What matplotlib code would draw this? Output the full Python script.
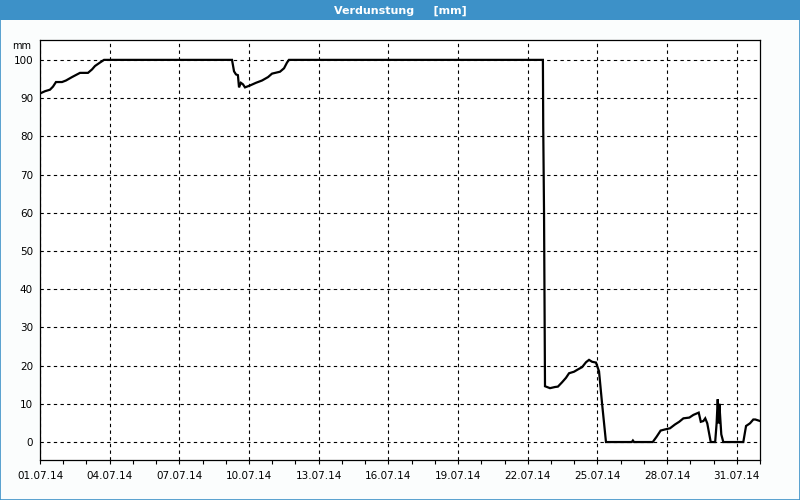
import numpy as np
import pandas as pd
import matplotlib
matplotlib.use("Agg")
import matplotlib.pyplot as plt
import matplotlib.dates as mdates
from matplotlib.patches import Rectangle

# Verdunstung [mm], Juli 2014
times = [
    "2014-07-01 00:00", "2014-07-01 05:10", "2014-07-01 10:20", "2014-07-01 13:25",
    "2014-07-01 16:30", "2014-07-01 22:45", "2014-07-02 02:50", "2014-07-02 09:05",
    "2014-07-02 17:20", "2014-07-03 01:35", "2014-07-03 05:45", "2014-07-03 08:50",
    "2014-07-03 14:00", "2014-07-03 18:10",
    "2014-07-09 06:25", "2014-07-09 08:30", "2014-07-09 10:30", "2014-07-09 12:30",
    "2014-07-09 13:40", "2014-07-09 15:35", "2014-07-09 17:45", "2014-07-09 19:50",
    "2014-07-10 01:00", "2014-07-10 07:10", "2014-07-10 13:25", "2014-07-10 19:40",
    "2014-07-10 23:45", "2014-07-11 08:00", "2014-07-11 12:10", "2014-07-11 15:15",
    "2014-07-11 17:15",
    "2014-07-22 15:40", "2014-07-22 16:00", "2014-07-22 16:50", "2014-07-22 17:50",
    "2014-07-22 23:00", "2014-07-23 04:10", "2014-07-23 07:10", "2014-07-23 11:20",
    "2014-07-23 15:30", "2014-07-23 18:40", "2014-07-23 23:50", "2014-07-24 03:50",
    "2014-07-24 08:10", "2014-07-24 12:15", "2014-07-24 15:20", "2014-07-24 18:30",
    "2014-07-24 22:30", "2014-07-25 01:40", "2014-07-25 04:50", "2014-07-25 08:50",
    "2014-07-26 11:30", "2014-07-26 12:40", "2014-07-26 13:50",
    "2014-07-27 09:10", "2014-07-27 13:10", "2014-07-27 17:20", "2014-07-27 21:50",
    "2014-07-28 03:00", "2014-07-28 08:10", "2014-07-28 12:30", "2014-07-28 16:50",
    "2014-07-28 23:00", "2014-07-29 03:10", "2014-07-29 08:40", "2014-07-29 10:50",
    "2014-07-29 13:30", "2014-07-29 15:25", "2014-07-29 17:30", "2014-07-29 21:05",
    "2014-07-30 01:40", "2014-07-30 03:10", "2014-07-30 04:20", "2014-07-30 05:20",
    "2014-07-30 06:00", "2014-07-30 08:00", "2014-07-30 10:05",
    "2014-07-31 06:45", "2014-07-31 09:35", "2014-07-31 13:40", "2014-07-31 17:05",
    "2014-07-31 19:10", "2014-08-01 00:00",
]
values = [
    91.2, 91.8, 92.2, 93.0,
    94.2, 94.2, 94.6, 95.5,
    96.6, 96.6, 97.5, 98.4,
    99.3, 100.0,
    100.0, 97.0, 96.2, 96.0,
    92.8, 94.0, 93.6, 92.8,
    93.3, 94.0, 94.6, 95.5,
    96.4, 96.9, 97.8, 99.3,
    100.0,
    100.0, 82.5, 60.0, 14.6,
    14.1, 14.4, 14.5, 15.6,
    16.8, 18.0, 18.4, 19.0,
    19.6, 20.9, 21.5, 21.0,
    20.8, 18.5, 10.0, 0.0,
    0.0, 0.4, 0.0,
    0.0, 1.4, 3.0, 3.3,
    3.6, 4.6, 5.3, 6.2,
    6.4, 7.1, 7.7, 5.3,
    5.5, 6.2, 4.9, 0.0,
    0.0, 4.9, 11.2, 4.9,
    10.0, 2.0, 0.0,
    0.0, 4.2, 4.9, 5.9,
    5.9, 5.5,
]
t = pd.to_datetime(times)

title = "Verdunstung     [mm]"
unit = "mm"
yticks = np.arange(0, 101, 10)
xticks = pd.date_range("2014-07-01", "2014-07-31", freq="3D")

blue = "#3d91c8"
plt.rcParams["font.family"] = "DejaVu Sans"

fig = plt.figure(figsize=(8, 5), dpi=100)
fig.patch.set_facecolor("#fbfdfd")

# title bar and frame
fig.patches.append(Rectangle((0, 0.96), 1, 0.04, transform=fig.transFigure,
                             facecolor=blue, edgecolor="none", zorder=0))
fig.patches.append(Rectangle((0.0006, 0.001), 0.9988, 0.998, transform=fig.transFigure,
                             facecolor="none", edgecolor=blue, lw=1.2, zorder=5))
fig.text(0.5, 0.979, title, color="white", ha="center", va="center",
         fontsize=8, fontweight="bold")

ax = fig.add_axes([0.05, 0.08, 0.90, 0.84])
ax.set_facecolor("white")
ax.plot(t, values, color="black", lw=1.6, solid_joinstyle="miter")

ax.set_xlim(pd.Timestamp("2014-07-01"), pd.Timestamp("2014-08-01"))
ax.set_ylim(-4.7, 105.2)

ax.set_xticks(xticks)
ax.xaxis.set_minor_locator(mdates.DayLocator())
ax.xaxis.set_major_formatter(mdates.DateFormatter("%d.%m.%y"))
ax.set_yticks(yticks)

ax.tick_params(axis="x", which="both", direction="out", length=3, width=0.8,
               labelsize=7.5, pad=5)
ax.tick_params(axis="y", length=0, labelsize=7.5, pad=5)

ax.grid(True, which="major", color="black", linestyle=(0, (3, 3)), lw=0.8)
for s in ax.spines.values():
    s.set_linewidth(0.9)

ax.text(-0.012, 0.986, unit, transform=ax.transAxes, ha="right", va="center",
        fontsize=7)

fig.savefig("out.png", dpi=100, facecolor=fig.get_facecolor())
